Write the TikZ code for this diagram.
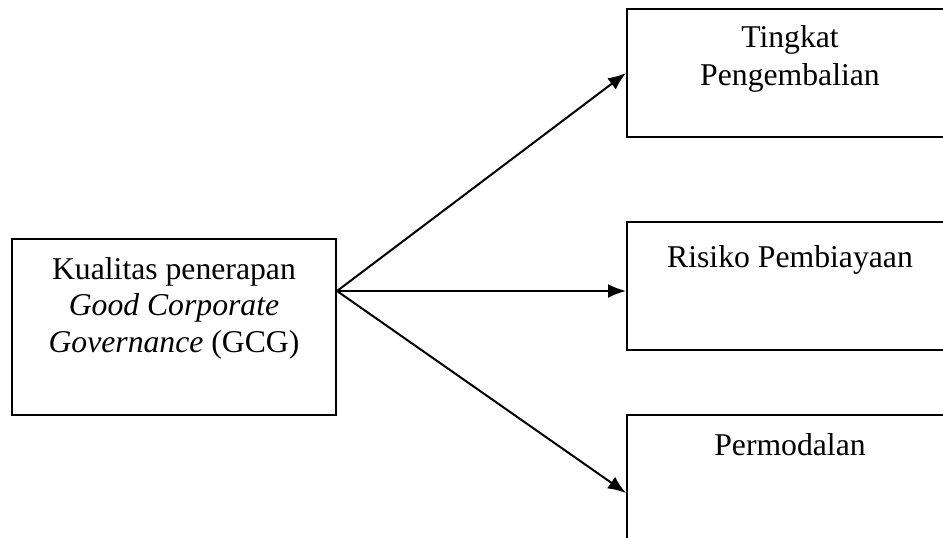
\documentclass[tikz,border=0pt]{standalone}
\usepackage{fontspec}
\setmainfont{Liberation Serif}
\usetikzlibrary{arrows.meta,calc}
\begin{document}
\begin{tikzpicture}[x=1pt,y=-1pt,
  box/.style={draw,line width=2pt,rectangle,inner sep=0pt},
  lbl/.style={font=\fontsize{31.7}{38}\selectfont,align=center,inner sep=0pt,anchor=base},
  arr/.style={line width=2pt,-{Latex[length=18pt,width=14pt]}}]
\useasboundingbox (0,0) rectangle (943,538);
\clip (0,0) rectangle (943,538);
% boxes
\node[box,minimum width=324pt,minimum height=176pt] (src) at (174,327) {};
\node[box,minimum width=326pt,minimum height=128pt] (t1) at (790,73) {};
\node[box,minimum width=326pt,minimum height=128pt] (t2) at (790,286) {};
\node[box,minimum width=326pt,minimum height=156pt] (t3) at (790,493) {};
% texts
\node[lbl,font=\fontsize{31.7}{36.5}\selectfont] (srct) at (174,352) {Kualitas penerapan\\\textit{Good Corporate}\\\textit{Governance} (GCG)};
\node[lbl] (t1t) at (790,85) {Tingkat\\Pengembalian};
\node[lbl] (t2t) at (790,267) {Risiko Pembiayaan};
\node[lbl] (t3t) at (790,455) {Permodalan};
% connectors
\coordinate (s) at ($(src.east)+(0,-36)$);
\draw[arr] (s) -- (t1.west);
\draw[arr] (s) -- (t2.west |- s);
\draw[arr] (s) -- (t3.west);
\end{tikzpicture}
\end{document}
